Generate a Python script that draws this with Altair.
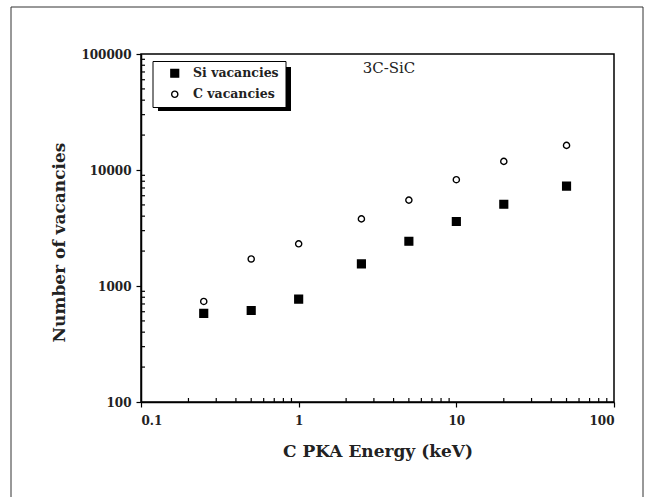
import altair as alt
import pandas as pd

energy = [0.25, 0.5, 1, 2.5, 5, 10, 20, 50]
si_vac = [580, 615, 770, 1550, 2430, 3600, 5070, 7260]
c_vac = [736, 1710, 2310, 3790, 5500, 8250, 11860, 16300]
series_names = ["Si vacancies", "C vacancies"]
x_major = [0.1, 1, 10, 100]
y_major = [100, 1000, 10000, 100000]
x_minor = [0.2, 0.3, 0.4, 0.5, 0.6, 0.7, 0.8, 0.9, 2, 3, 4, 5, 6, 7, 8, 9,
           20, 30, 40, 50, 60, 70, 80, 90]
y_minor = [200, 300, 400, 500, 600, 700, 800, 900, 2000, 3000, 4000, 5000,
           6000, 7000, 8000, 9000, 20000, 30000, 40000, 50000, 60000, 70000,
           80000, 90000]

rows = []
for e, v in zip(energy, si_vac):
    rows.append({"energy": e, "vac": v, "series": series_names[0]})
for e, v in zip(energy, c_vac):
    rows.append({"energy": e, "vac": v, "series": series_names[1]})
df = pd.DataFrame(rows)

W, H = 473, 348
SERIF = "DejaVu Serif"

xscale = alt.Scale(type="log", domain=[0.1, 100], nice=False)
yscale = alt.Scale(type="log", domain=[100, 100000], nice=False)

# outer figure frame
frame = alt.Chart(pd.DataFrame({"a": [0]})).mark_rect(
    fill=None, stroke="#333", strokeWidth=1
).encode(x=alt.value(-130), x2=alt.value(502), y=alt.value(-47), y2=alt.value(480))

leg = alt.Legend(title=None)
points = alt.Chart(df).mark_point(strokeWidth=1.4, opacity=1).encode(
    x=alt.X("energy:Q", scale=xscale,
            axis=alt.Axis(values=x_major, format="~g", title="C PKA Energy (keV)",
                          titlePadding=17, labelPadding=8)),
    y=alt.Y("vac:Q", scale=yscale,
            axis=alt.Axis(values=y_major, format="~g", title="Number of vacancies",
                          titlePadding=12, labelPadding=5, titleY=188)),
    shape=alt.Shape("series:N", scale=alt.Scale(domain=series_names, range=["square", "circle"]),
                    legend=leg),
    fill=alt.Fill("series:N", scale=alt.Scale(domain=series_names, range=["black", "white"]),
                  legend=leg),
    stroke=alt.Stroke("series:N", scale=alt.Scale(domain=series_names, range=["black", "black"]),
                      legend=leg),
    size=alt.Size("series:N", scale=alt.Scale(domain=series_names, range=[60, 38]),
                  legend=leg),
)

xminor = alt.Chart(pd.DataFrame({"v": x_minor})).mark_rule(color="black", strokeWidth=1.2).encode(
    x=alt.X("v:Q", scale=xscale), y=alt.value(H), y2=alt.value(H - 4)
)
yminor = alt.Chart(pd.DataFrame({"v": y_minor})).mark_rule(color="black", strokeWidth=1.2).encode(
    y=alt.Y("v:Q", scale=yscale), x=alt.value(0), x2=alt.value(4)
)

shadow = alt.Chart(pd.DataFrame({"a": [0]})).mark_rect(fill="black").encode(
    x=alt.value(17), x2=alt.value(150), y=alt.value(13), y2=alt.value(57)
)

label = alt.Chart(pd.DataFrame({"t": ["3C-SiC"]})).mark_text(
    font=SERIF, fontSize=15, color="#222", align="center", baseline="middle"
).encode(text="t:N", x=alt.value(248), y=alt.value(14))

chart = alt.layer(frame, shadow, xminor, yminor, label, points).properties(
    width=W, height=H,
    padding={"left": 141, "top": 54, "right": 39, "bottom": 95},
    autosize=alt.AutoSizeParams(type="none"),
).configure_view(
    stroke="black", strokeWidth=1.5
).configure_axis(
    labelFont=SERIF, labelFontSize=12, labelFontWeight="bold", labelColor="#222",
    titleFont=SERIF, titleFontSize=17, titleFontWeight="bold", titleColor="#222",
    domainColor="black", domainWidth=1.5, tickColor="black", tickSize=5, tickWidth=1.2,
    grid=False,
).configure_legend(
    orient="none", legendX=11.5, legendY=7,
    strokeColor="black", fillColor="white", padding=6,
    symbolOffset=10, labelOffset=12,
    labelFont=SERIF, labelFontSize=12.5, labelFontWeight="bold", labelColor="#222",
    rowPadding=8, symbolStrokeWidth=1.4,
)

chart.save("out.html", embed_options={"renderer": "svg", "actions": False})
